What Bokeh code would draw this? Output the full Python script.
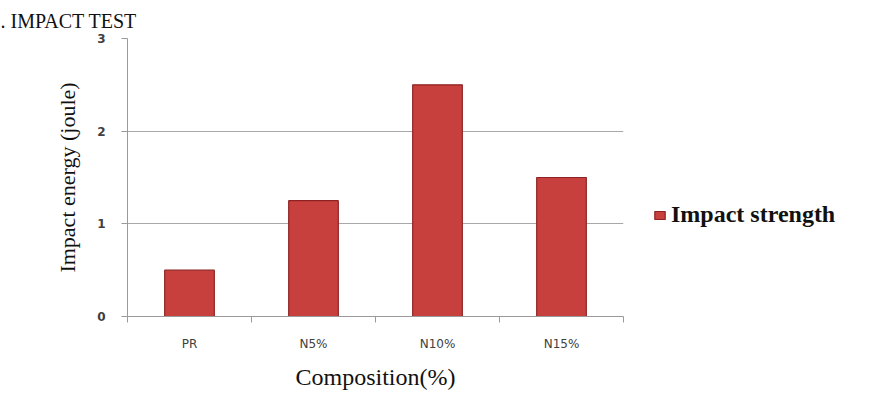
from bokeh.plotting import figure
from bokeh.models import Range1d, FixedTicker, Legend, LegendItem, ColumnDataSource
from bokeh.embed import file_html
from bokeh.resources import INLINE

categories = ["PR", "N5%", "N10%", "N15%"]
impact_strength = [0.5, 1.25, 2.5, 1.5]
y_ticks = [0, 1, 2, 3]

xpos = [i + 0.5 for i in range(len(categories))]
src = ColumnDataSource(dict(x=xpos, top=impact_strength, cat=categories))

p = figure(frame_width=496, frame_height=278, output_backend="svg", toolbar_location=None,
           x_range=Range1d(0, len(categories)), y_range=Range1d(0, 3),
           min_border_left=127, min_border_right=0, min_border_top=38, min_border_bottom=78)
p.outline_line_color = None
p.background_fill_color = "white"
p.border_fill_color = "white"

r = p.vbar(x="x", top="top", width=0.4, source=src, fill_color="#C8403D",
           line_color="#8E2222", line_width=1.2)

p.title.text = ". IMPACT TEST"
p.title.text_font = "Liberation Serif"
p.title.text_font_style = "normal"
p.title.text_font_size = "20px"
p.title.text_color = "#111111"
p.title.align = "left"
p.title.offset = -127
p.title.standoff = 14

# axes
p.yaxis.ticker = FixedTicker(ticks=y_ticks)
p.yaxis.axis_line_color = "#9A9A9A"
p.yaxis.major_tick_line_color = "#9A9A9A"
p.yaxis.major_tick_out = 6
p.yaxis.major_tick_in = 0
p.yaxis.minor_tick_line_color = None
p.yaxis.major_label_text_font = "DejaVu Sans"
p.yaxis.major_label_text_font_style = "bold"
p.yaxis.major_label_text_font_size = "12px"
p.yaxis.major_label_text_color = "#404040"
p.yaxis.major_label_standoff = 16
p.yaxis.axis_label = "Impact energy (joule)"
p.yaxis.axis_label_text_font = "Liberation Serif"
p.yaxis.axis_label_text_font_style = "normal"
p.yaxis.axis_label_text_font_size = "22px"
p.yaxis.axis_label_text_color = "#111111"
p.yaxis.axis_label_standoff = 14

p.xaxis.ticker = FixedTicker(ticks=xpos, minor_ticks=list(range(len(categories) + 1)))
p.xaxis.major_label_overrides = {x: c for x, c in zip(xpos, categories)}
p.xaxis.axis_line_color = "#9A9A9A"
p.xaxis.major_tick_line_color = None
p.xaxis.minor_tick_line_color = "#9A9A9A"
p.xaxis.minor_tick_out = 6
p.xaxis.minor_tick_in = 0
p.xaxis.major_label_text_font = "DejaVu Sans"
p.xaxis.major_label_text_font_size = "12px"
p.xaxis.major_label_text_color = "#404040"
p.xaxis.major_label_standoff = 14
p.xaxis.axis_label = "Composition(%)"
p.xaxis.axis_label_text_font = "Liberation Serif"
p.xaxis.axis_label_text_font_style = "normal"
p.xaxis.axis_label_text_font_size = "24px"
p.xaxis.axis_label_text_color = "#111111"
p.xaxis.axis_label_standoff = 10

p.xgrid.grid_line_color = None
p.ygrid.ticker = FixedTicker(ticks=y_ticks)
p.ygrid.grid_line_color = "#A8A8A8"

legend = Legend(items=[LegendItem(label="Impact strength", renderers=[r])],
                location=(30, 88), border_line_color=None, background_fill_alpha=0,
                label_text_font="Liberation Serif", label_text_font_style="bold",
                label_text_font_size="24px", label_text_color="#111111",
                glyph_width=13, glyph_height=10, label_standoff=5, padding=0, margin=0)
p.add_layout(legend, "right")

open("out.html", "w").write(file_html(p, INLINE))
